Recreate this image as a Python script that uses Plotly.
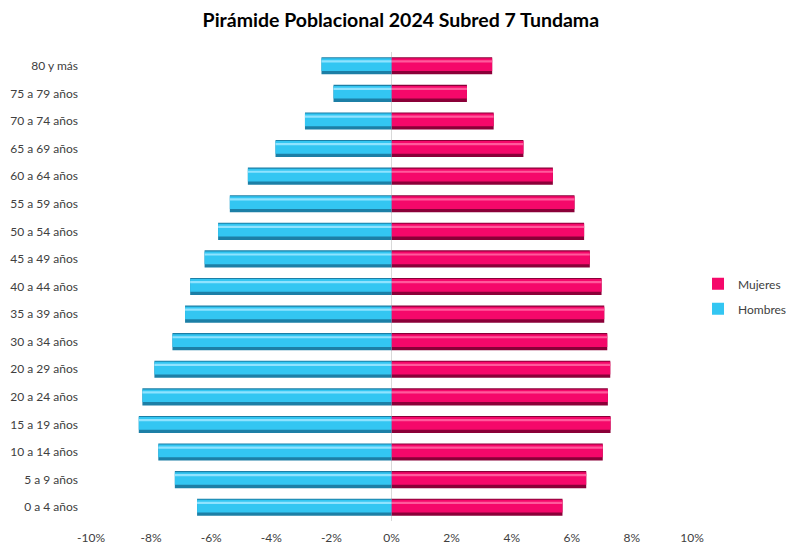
import plotly.graph_objects as go

# Age groups, bottom to top
grupos = [
    "0 a 4 años", "5 a 9 años", "10 a 14 años", "15 a 19 años", "20 a 24 años",
    "20 a 29 años", "30 a 34 años", "35 a 39 años", "40 a 44 años", "45 a 49 años",
    "50 a 54 años", "55 a 59 años", "60 a 64 años", "65 a 69 años", "70 a 74 años",
    "75 a 79 años", "80 y más",
]

# Share of total population (%)
hombres = [6.47, 7.21, 7.76, 8.41, 8.29, 7.89, 7.29, 6.87, 6.70, 6.22,
           5.77, 5.38, 4.78, 3.86, 2.88, 1.93, 2.33]
mujeres = [5.69, 6.48, 7.03, 7.29, 7.20, 7.28, 7.18, 7.08, 6.99, 6.60,
           6.41, 6.09, 5.37, 4.39, 3.40, 2.51, 3.35]

x_ticks = [-0.10, -0.08, -0.06, -0.04, -0.02, 0.0, 0.02, 0.04, 0.06, 0.08, 0.10]
x_tick_text = ["-10%", "-8%", "-6%", "-4%", "-2%", "0%", "2%", "4%", "6%", "8%", "10%"]

h_vals = [-v / 100 for v in hombres]
m_vals = [v / 100 for v in mujeres]

# Bevelled look: dark base, main body, light highlight strip
base = dict(width=0.62, offset=-0.31, h="#1c7fa6", m="#8a0038")
body = dict(width=0.46, offset=-0.19, h="#33c6f2", m="#f5086a")
shine = dict(width=0.08, offset=0.12, h="#8fe3ff", m="#ff5a9c")

fig = go.Figure()

for layer in (base, body, shine):
    is_body = layer is body
    fig.add_trace(go.Bar(
        y=grupos, x=m_vals, orientation="h", name="Mujeres",
        legendgroup="mujeres", legendrank=1, showlegend=is_body,
        width=layer["width"], offset=layer["offset"],
        marker=dict(color=layer["m"], line=dict(width=0)),
        hoverinfo="x+y" if is_body else "skip",
    ))
    fig.add_trace(go.Bar(
        y=grupos, x=h_vals, orientation="h", name="Hombres",
        legendgroup="hombres", legendrank=2, showlegend=is_body,
        width=layer["width"], offset=layer["offset"],
        marker=dict(color=layer["h"], line=dict(width=0)),
        hoverinfo="x+y" if is_body else "skip",
    ))

fig.update_layout(
    width=786, height=544,
    barmode="overlay",
    paper_bgcolor="white", plot_bgcolor="white",
    margin=dict(l=91, r=94, t=52, b=23, autoexpand=False),
    font=dict(family="Lato, 'Open Sans', sans-serif", size=12, color="#404040"),
    title=dict(
        text="<b>Pirámide Poblacional 2024 Subred 7 Tundama</b>",
        x=0.51, xanchor="center", y=0.962, yanchor="middle",
        font=dict(size=19.5, color="#000000"),
    ),
    legend=dict(
        x=1.01, xanchor="left", y=0.479, yanchor="middle",
        font=dict(size=12, color="#404040"),
        itemwidth=30, tracegroupgap=6,
        bgcolor="rgba(0,0,0,0)",
    ),
    showlegend=True,
)

fig.update_xaxes(
    range=[-0.10, 0.10],
    tickvals=x_ticks, ticktext=x_tick_text,
    showgrid=False, zeroline=True, zerolinecolor="#d9d9d9", zerolinewidth=1,
    showline=False, ticks="", ticklabelstandoff=8,
    tickfont=dict(size=12, color="#404040"),
)
fig.update_yaxes(
    categoryorder="array", categoryarray=grupos,
    showgrid=False, zeroline=False, showline=False,
    ticks="", ticklabelstandoff=12,
    tickfont=dict(size=12, color="#404040"),
)

fig.write_html("out.html")
